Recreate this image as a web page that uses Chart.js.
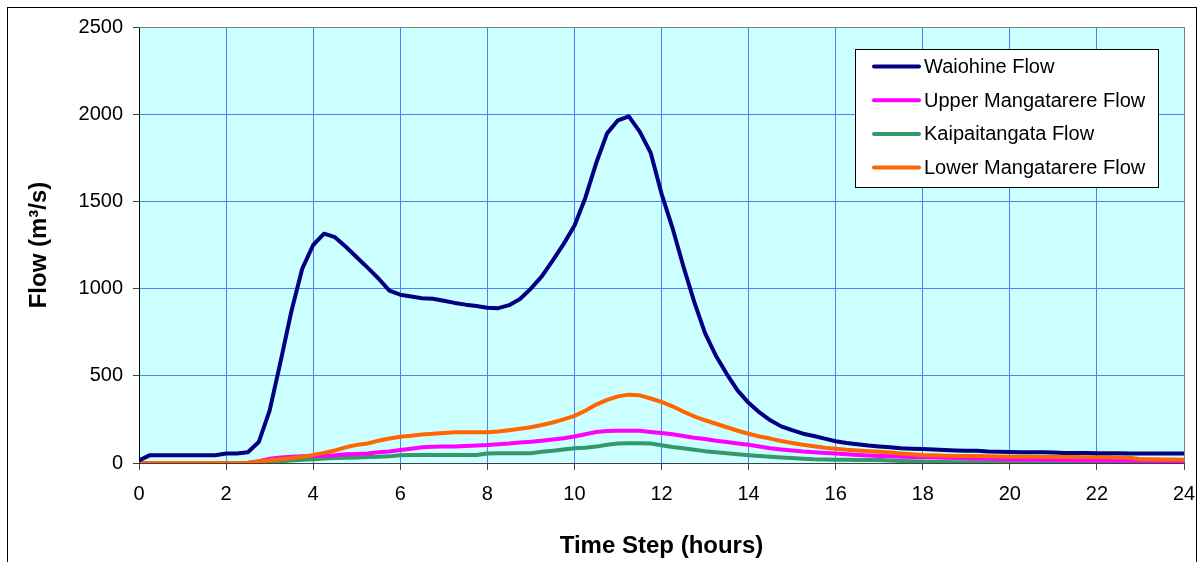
<!DOCTYPE html>
<html>
<head>
<meta charset="utf-8">
<script src="https://cdn.jsdelivr.net/npm/chart.js@4.4.1/dist/chart.umd.min.js"></script>
<style>
html,body{margin:0;padding:0;background:#fff;overflow:hidden;}
#wrap{width:1200px;height:562px;position:relative;}
</style>
</head>
<body>
<div id="wrap"><canvas id="c" width="1200" height="562"></canvas></div>
<script>
// Time step (hours)
const timeSteps = [
  0,0.25,0.5,0.75,1,1.25,1.5,1.75,
  2,2.25,2.5,2.75,3,3.25,3.5,3.75,
  4,4.25,4.5,4.75,5,5.25,5.5,5.75,
  6,6.25,6.5,6.75,7,7.25,7.5,7.75,
  8,8.25,8.5,8.75,9,9.25,9.5,9.75,
  10,10.25,10.5,10.75,11,11.25,11.5,11.75,
  12,12.25,12.5,12.75,13,13.25,13.5,13.75,
  14,14.25,14.5,14.75,15,15.25,15.5,15.75,
  16,16.25,16.5,16.75,17,17.25,17.5,17.75,
  18,18.25,18.5,18.75,19,19.25,19.5,19.75,
  20,20.25,20.5,20.75,21,21.25,21.5,21.75,
  22,22.25,22.5,22.75,23,23.25,23.5,23.75,
  24
];
const waiohineFlow = [
  15,45,45,45,45,45,45,45,
  55,55,62,120,300,580,870,1115,
  1250,1315,1295,1240,1180,1120,1058,988,
  965,955,945,942,930,918,908,900,
  890,888,905,940,1000,1070,1160,1255,
  1360,1520,1720,1890,1965,1988,1900,1780,
  1545,1350,1130,925,745,615,510,415,
  345,290,245,210,188,168,155,140,
  125,115,108,100,95,90,85,82,
  80,78,75,72,70,70,66,65,
  63,62,62,62,60,58,57,57,
  56,56,56,55,55,55,55,55,
  55
];
const upperMangatarereFlow = [
  0,0,0,0,0,0,0,0,
  0,0,2,10,25,32,36,38,
  40,42,45,50,52,55,62,66,
  75,82,90,93,94,95,98,100,
  103,108,112,118,122,128,135,142,
  152,165,178,184,185,185,185,178,
  172,165,155,145,138,128,120,112,
  105,95,85,78,72,66,62,58,
  54,50,46,43,40,38,36,35,
  34,32,30,28,27,25,24,22,
  20,20,19,18,18,17,16,16,
  15,15,14,14,13,13,12,12,
  12
];
const kaipaitangataFlow = [
  0,0,0,0,0,0,0,0,
  0,0,0,0,0,8,15,18,
  22,26,28,30,32,34,36,38,
  44,46,46,46,46,46,46,46,
  55,56,56,56,56,65,70,78,
  84,88,94,105,112,113,113,112,
  102,92,84,76,68,62,56,50,
  45,40,36,32,28,24,21,20,
  19,18,17,17,17,15,12,10,
  8,6,6,5,5,5,5,5,
  5,5,5,5,5,5,5,5,
  5,5,5,5,5,5,5,5,
  5
];
const lowerMangatarereFlow = [
  0,0,0,0,0,0,0,0,
  0,0,2,8,16,22,28,36,
  46,58,72,90,104,112,128,140,
  150,156,164,168,172,176,176,176,
  176,180,188,196,205,218,232,250,
  270,300,335,362,382,392,388,370,
  350,325,295,268,245,225,205,185,
  168,152,140,126,115,105,96,88,
  82,76,72,68,64,60,55,50,
  46,44,42,40,40,40,38,37,
  36,36,36,35,35,34,34,33,
  33,33,32,30,22,21,20,20,
  18
];
const seriesLabels = ["Waiohine Flow","Upper Mangatarere Flow","Kaipaitangata Flow","Lower Mangatarere Flow"];
const seriesColors = ["#000080","#FF00FF","#339966","#FF6600"];
const seriesValues = [waiohineFlow, upperMangatarereFlow, kaipaitangataFlow, lowerMangatarereFlow];
const drawOrder = [0,2,3,1];
const xTitle = "Time Step (hours)";
const yTitle = "Flow (m\u00B3/s)";

const FONT = "'Liberation Sans', Arial, sans-serif";

const datasets = seriesValues.map((vals, i) => ({
  label: seriesLabels[i],
  data: timeSteps.map((t, j) => ({x: t, y: vals[j]})),
  borderColor: seriesColors[i],
  backgroundColor: seriesColors[i],
  borderWidth: 4,
  pointRadius: 0,
  tension: 0,
  fill: false,
  borderJoinStyle: 'round',
  borderCapStyle: 'round',
  order: drawOrder[i]
}));

const framePlugin = {
  id: 'frame',
  beforeDraw(chart) {
    const ctx = chart.ctx;
    const a = chart.chartArea;
    ctx.save();
    ctx.fillStyle = '#ffffff';
    ctx.fillRect(0, 0, chart.width, chart.height);
    ctx.strokeStyle = '#000000';
    ctx.lineWidth = 1;
    ctx.strokeRect(7.5, 7.5, 1189, 620);
    ctx.fillStyle = '#CCFFFF';
    ctx.fillRect(a.left, a.top, a.right - a.left, a.bottom - a.top);
    ctx.restore();
  },
  beforeDatasetsDraw(chart) {
    const ctx = chart.ctx;
    const a = chart.chartArea;
    ctx.save();
    ctx.strokeStyle = '#808080';
    ctx.lineWidth = 1;
    ctx.beginPath();
    ctx.moveTo(a.left, Math.round(a.top) + 0.5);
    ctx.lineTo(Math.round(a.right) + 0.5, Math.round(a.top) + 0.5);
    ctx.lineTo(Math.round(a.right) + 0.5, a.bottom);
    ctx.stroke();
    ctx.restore();
  },
  afterDraw(chart) {
    const ctx = chart.ctx;
    ctx.save();
    const bx = 855.5, by = 49.5, bw = 303, bh = 138;
    ctx.fillStyle = '#ffffff';
    ctx.fillRect(bx, by, bw, bh);
    ctx.strokeStyle = '#000000';
    ctx.lineWidth = 1;
    ctx.strokeRect(bx, by, bw, bh);
    ctx.font = '20px ' + FONT;
    ctx.textBaseline = 'middle';
    ctx.textAlign = 'left';
    chart.data.datasets.forEach((ds, i) => {
      const y = 66.5 + i * 33.7;
      ctx.strokeStyle = ds.borderColor;
      ctx.lineWidth = 4;
      ctx.lineCap = 'round';
      ctx.beginPath();
      ctx.moveTo(874, y);
      ctx.lineTo(919, y);
      ctx.stroke();
      ctx.fillStyle = '#000000';
      ctx.fillText(ds.label, 924, y + 1);
    });
    ctx.restore();
  }
};

new Chart(document.getElementById('c'), {
  type: 'line',
  data: { datasets },
  plugins: [framePlugin],
  options: {
    responsive: false,
    animation: false,
    devicePixelRatio: 1,
    layout: { padding: { top: 27, left: 0, right: 16, bottom: 0 } },
    plugins: { legend: { display: false }, tooltip: { enabled: false } },
    scales: {
      x: {
        type: 'linear',
        min: 0, max: 24,
        afterFit(s) { s.height = 99; s.paddingLeft = 0; s.paddingRight = 0; },
        ticks: { stepSize: 2, color: '#000', font: { family: FONT, size: 20 }, padding: 12, maxRotation: 0, autoSkip: false,
                 callback: (v) => String(v) },
        grid: { color: '#4D80FF', lineWidth: 1, tickLength: 7, tickColor: '#404040', drawTicks: true },
        border: { color: '#404040', width: 1 },
        title: { display: true, text: xTitle, color: '#000', font: { family: FONT, size: 24, weight: 'bold' }, padding: { top: 0, bottom: 1 } }
      },
      y: {
        min: 0, max: 2500,
        afterFit(s) { s.width = 139; },
        ticks: { stepSize: 500, color: '#000', font: { family: FONT, size: 20 }, padding: 10,
                 callback: (v) => String(v) },
        grid: { color: '#4D80FF', lineWidth: 1, tickLength: 6, tickColor: '#404040', drawTicks: true },
        border: { color: '#000000', width: 1 },
        title: { display: true, text: yTitle, color: '#000', font: { family: FONT, size: 24, weight: 'bold' }, padding: { top: 25, bottom: 0 } }
      }
    }
  }
});
</script>
</body>
</html>
